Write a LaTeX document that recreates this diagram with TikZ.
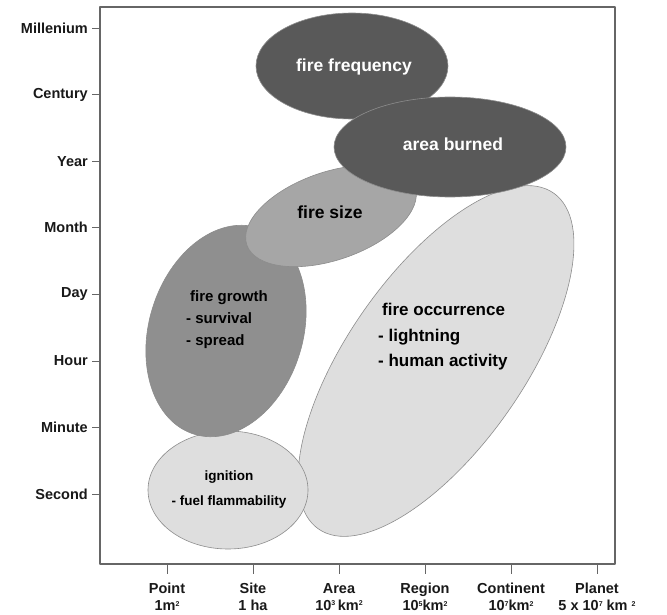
\documentclass[tikz,border=0pt]{standalone}
\usepackage{fontspec}
\setmainfont{Liberation Sans}
\usetikzlibrary{positioning}
\newcommand{\sq}[1]{\raisebox{0.55ex}{\fontsize{7}{7}\selectfont #1}}

\begin{document}
\begin{tikzpicture}[x=1pt,y=-1pt, line join=round,
  frame/.style={draw=black!60, line width=1.3pt},
  lbl/.style={font=\fontsize{14.5}{17}\selectfont\bfseries, text=black!90, inner sep=0pt},
  blob/.style={draw=black!45, line width=0.6pt},
  dark/.style={blob, fill=black!65},
  mid/.style={blob, fill=black!35},
  midd/.style={blob, fill=black!44},
  light/.style={blob, fill=black!13},
  big/.style={font=\fontsize{17.5}{20}\selectfont\bfseries, inner sep=0pt},
  small/.style={font=\fontsize{15}{22}\selectfont\bfseries, inner sep=0pt, align=left}]
\useasboundingbox (0,0) rectangle (667,615);

% time scale
\foreach \lab [count=\i from 0] in {Millenium,Century,Year,Month,Day,Hour,Minute,Second} {
  \coordinate (t\i) at (100,28+66.6*\i);
  \draw[frame, line width=0.8pt] (t\i) -- ++(-8,0);
  \node[lbl, anchor=east] (tl\i) at (88,28+66.6*\i) {\lab};
}

% space scale
\foreach \up/\down [count=\i from 0] in {Point/1m\sq{2}, Site/1 ha,
    Area/10\sq{3}\,km\sq{2}, Region/10\sq{5}km\sq{2},
    Continent/10\sq{7}km\sq{2}, Planet/5 x 10\sq{7} km \sq{2}} {
  \coordinate (s\i) at (167+86*\i,564);
  \draw[frame, line width=0.8pt] (s\i) -- ++(0,10);
  \node[lbl, align=center, anchor=north] (sl\i) at (167+86*\i,583) {\up\\\down};
}

% processes
\draw[light] [rotate around={55:(436,361)}] (436,361) ellipse [x radius=205, y radius=88];
\draw[light] (228,490) ellipse [x radius=80, y radius=59];
\draw[midd] [rotate around={-17:(226,331)}] (226,331) ellipse [x radius=77, y radius=108];
\draw[mid] [rotate around={19:(331,216)}] (331,216) ellipse [x radius=89, y radius=44];
\draw[dark] (352,66) ellipse [x radius=96, y radius=53];
\draw[dark] (450,147) ellipse [x radius=116, y radius=50];

\node[big, text=white] (freq) at (354,67) {fire frequency};
\node[big, text=white] (burn) at (453,144) {area burned};
\node[big] (size) at (330,212) {fire size};
\node[small, anchor=north west] (grow) at (186,290) {\hspace{4pt}fire growth\\- survival\\- spread};
\node[font=\fontsize{17}{25.5}\selectfont\bfseries, inner sep=0pt, align=left, anchor=north west]
  (occ) at (378,303) {\hspace{4pt}fire occurrence\\- lightning\\- human activity};
\node[font=\fontsize{13.5}{25}\selectfont\bfseries, inner sep=0pt, align=center] (ign) at (229,490) {ignition\\- fuel flammability};

\draw[frame] (100,7) rectangle (615,564);
\end{tikzpicture}
\end{document}
